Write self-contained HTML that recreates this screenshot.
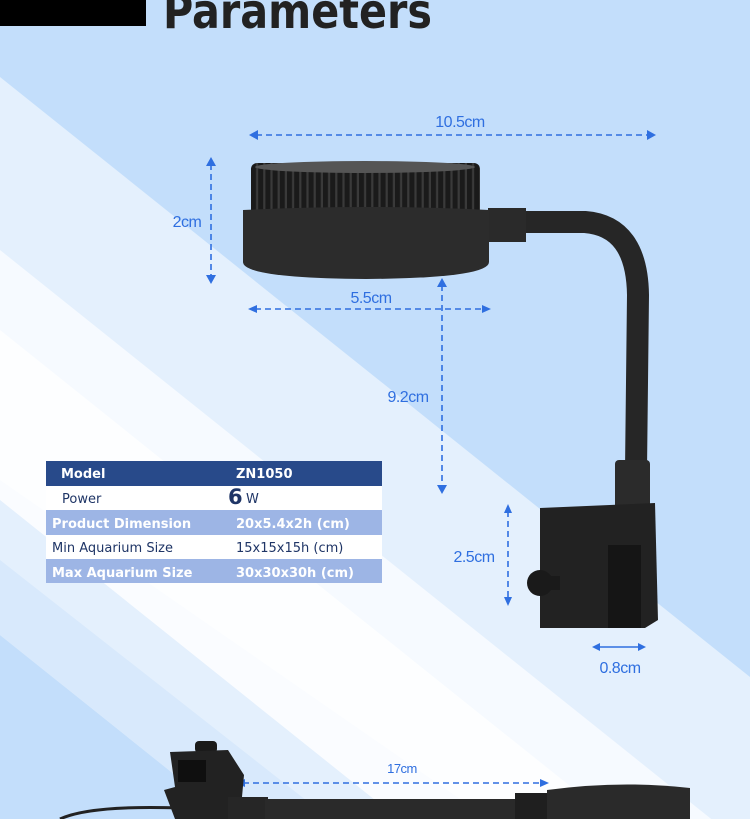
<!DOCTYPE html>
<html><head><meta charset="utf-8"><style>
html,body{margin:0;padding:0;width:750px;height:819px;overflow:hidden;background:#c3defb}
svg{display:block;position:absolute;left:0;top:0}
</style></head><body>
<svg width="750" height="819" viewBox="0 0 750 819" xmlns="http://www.w3.org/2000/svg" font-family="Liberation Sans, sans-serif">
<defs>
<pattern id="fins" x="251" y="0" width="7.2" height="10" patternUnits="userSpaceOnUse">
<rect width="7.2" height="10" fill="#1a1a1a"/><rect x="5" width="2.2" height="10" fill="#3a3a3a"/>
</pattern>
</defs>
<rect width="750" height="819" fill="#c3defb"/>
<polygon points="0,77 750,677 750,819 230,819 0,635" fill="#e4f0fd"/>
<polygon points="0,250 750,850 750,1000 0,480" fill="#f6faff"/>
<polygon points="0,330 750,930 750,1100 0,500" fill="#ffffff" opacity="0.8"/>
<polygon points="0,560 330,819 230,819 0,635" fill="#d8e9fc"/>
<!-- title -->
<rect x="0" y="0" width="146" height="26" fill="#000"/>
<text x="163" y="28" font-size="48" fill="#222" font-weight="bold" font-family="DejaVu Sans Condensed, DejaVu Sans, sans-serif" textLength="269" lengthAdjust="spacingAndGlyphs">Parameters</text>

<!-- gooseneck -->
<path d="M515,222 L585,222 Q637,226 638,295 L636,470" fill="none" stroke="#262626" stroke-width="22"/>
<rect x="615" y="460" width="35" height="55" rx="4" fill="#2b2b2b"/>
<rect x="488" y="208" width="38" height="34" fill="#2a2a2a"/>
<!-- clamp -->
<polygon points="540,508 655,503 658,620 645,628 540,628" fill="#222"/>
<rect x="608" y="545" width="33" height="83" fill="#151515"/>
<circle cx="540" cy="583" r="13" fill="#1a1a1a"/>
<rect x="550" y="576" width="10" height="14" fill="#1a1a1a"/>

<!-- head -->
<rect x="251" y="163" width="229" height="58" rx="6" fill="url(#fins)"/>
<ellipse cx="365" cy="167" rx="110" ry="6" fill="#555"/>
<path d="M243,210 Q366,204 489,210 L489,262 Q489,278 366,279 Q243,278 243,262 Z" fill="#2c2c2c"/>

<!-- dimension lines -->
<g stroke="#2f6fe0" stroke-width="1.6" stroke-dasharray="6,4" fill="none">
<line x1="256" y1="135" x2="649" y2="135"/>
<line x1="211" y1="164" x2="211" y2="277"/>
<line x1="255" y1="309" x2="484" y2="309"/>
<line x1="442" y1="285" x2="442" y2="487"/>
<line x1="508" y1="511" x2="508" y2="599"/>
<line x1="243" y1="783" x2="542" y2="783"/>
</g>
<line x1="598" y1="647" x2="640" y2="647" stroke="#2f6fe0" stroke-width="1.6"/>
<g fill="#2f6fe0">
<polygon points="249,135 258,130 258,140"/><polygon points="656,135 647,130 647,140"/>
<polygon points="211,157 206,166 216,166"/><polygon points="211,284 206,275 216,275"/>
<polygon points="248,309 257,305 257,313"/><polygon points="491,309 482,305 482,313"/>
<polygon points="442,278 437,287 447,287"/><polygon points="442,494 437,485 447,485"/>
<polygon points="508,504 504,513 512,513"/><polygon points="508,606 504,597 512,597"/>
<polygon points="592,647 600,643 600,651"/><polygon points="646,647 638,643 638,651"/>
<polygon points="236,783 245,779 245,787"/><polygon points="549,783 540,779 540,787"/>
</g>
<g fill="#2f6fe0" font-size="16" text-anchor="middle" letter-spacing="-0.5">
<text x="460" y="127">10.5cm</text>
<text x="187" y="227">2cm</text>
<text x="371" y="303">5.5cm</text>
<text x="408" y="402">9.2cm</text>
<text x="474" y="562">2.5cm</text>
<text x="620" y="673">0.8cm</text>
<text x="402" y="773" font-size="13">17cm</text>
</g>

<!-- bottom lamp -->
<path d="M60,819 Q90,805 180,808" fill="none" stroke="#222" stroke-width="3"/>
<rect x="195" y="741" width="22" height="12" rx="4" fill="#1a1a1a"/>
<polygon points="170,752 228,750 244,775 240,819 175,819 164,790 175,787" fill="#222"/>
<rect x="178" y="760" width="28" height="22" fill="#0f0f0f"/>
<rect x="228" y="797" width="40" height="22" fill="#262626"/>
<rect x="265" y="799" width="270" height="20" fill="#2a2a2a"/>
<rect x="515" y="793" width="40" height="26" fill="#1f1f1f"/>
<path d="M547,790 Q620,780 690,788 L690,819 L547,819 Z" fill="#2a2a2a"/>

<!-- table -->
<rect x="46" y="461" width="336" height="25" fill="#284a8a"/>
<rect x="46" y="486" width="336" height="24" fill="#ffffff"/>
<rect x="46" y="510" width="336" height="25" fill="#9db5e5"/>
<rect x="46" y="535" width="336" height="24" fill="#ffffff"/>
<rect x="46" y="559" width="336" height="24" fill="#9db5e5"/>
<g font-family="DejaVu Sans, sans-serif" font-size="13" font-weight="bold">
<text x="61" y="478" fill="#fff">Model</text><text x="236" y="478" fill="#fff">ZN1050</text>
<text x="62" y="503" fill="#1f3566" font-weight="normal">Power</text>
<text x="228" y="504" fill="#1f3566" font-size="21" font-weight="bold">6</text><text x="246" y="503" fill="#1f3566" font-weight="normal">W</text>
<text x="52" y="528" fill="#fff">Product Dimension</text><text x="236" y="528" fill="#fff">20x5.4x2h (cm)</text>
<text x="52" y="552" fill="#1f3566" font-weight="normal">Min Aquarium Size</text><text x="236" y="552" fill="#1f3566" font-weight="normal">15x15x15h (cm)</text>
<text x="52" y="577" fill="#fff">Max Aquarium Size</text><text x="236" y="577" fill="#fff">30x30x30h (cm)</text>
</g>
</svg>
</body></html>
